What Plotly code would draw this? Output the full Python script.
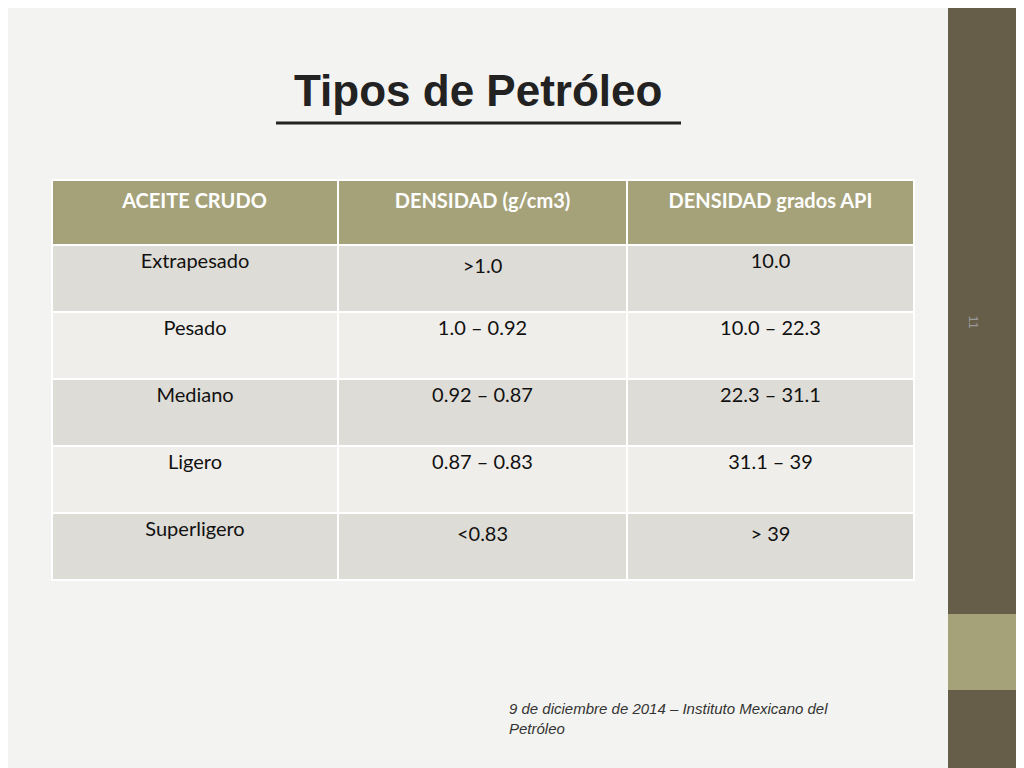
import plotly.graph_objects as go

headers = ["<b>ACEITE CRUDO</b>", "<b>DENSIDAD (g/cm3)</b>", "<b>DENSIDAD grados API</b>"]
tipos = ["Extrapesado", "Pesado", "Mediano", "Ligero", "Superligero"]
densidad = [">1.0", "1.0 – 0.92", "0.92 – 0.87", "0.87 – 0.83", "<0.83"]
api = ["10.0", "10.0 – 22.3", "22.3 – 31.1", "31.1 – 39", "> 39"]

row_colors = ["#DEDCD6", "#EFEEEA"] * 3
row_colors = row_colors[:len(tipos)]

W, H = 1024, 768
OFF = 8  # page offset in the browser


def px(x):
    return (x - OFF) / W


def py(y):
    return 1 - (y - OFF) / H


fig = go.Figure(go.Table(
    domain=dict(x=[px(52), px(914)], y=[py(586), py(180)]),
    columnwidth=[286, 289, 287],
    header=dict(values=headers, fill_color="#A5A27A", height=65,
                line=dict(color="white", width=2),
                font=dict(family="Lato", size=20, color="white"), align="center"),
    cells=dict(values=[tipos, densidad, api], fill_color=[row_colors]*3, height=67,
               line=dict(color="white", width=2),
               font=dict(family="Lato", size=20, color="#111111"), align="center"),
))

fig.add_shape(type="rect", xref="paper", yref="paper", x0=px(948), x1=1.02, y0=-0.02, y1=1.02,
              fillcolor="#665E48", line_width=0, layer="below")
fig.add_shape(type="rect", xref="paper", yref="paper", x0=px(948), x1=1.02, y0=py(690), y1=py(614),
              fillcolor="#A5A27A", line_width=0, layer="below")
fig.add_shape(type="line", xref="paper", yref="paper", x0=px(276), x1=px(681),
              y0=py(123), y1=py(123), line=dict(color="#222222", width=3))

fig.add_annotation(text="<b>Tipos de Petróleo</b>", x=px(478), y=py(64), xref="paper", yref="paper",
                   showarrow=False, font=dict(family="Liberation Sans", size=44, color="#222222"))
fig.add_annotation(text="11", x=px(983), y=py(322), xref="paper", yref="paper", textangle=90,
                   showarrow=False, font=dict(family="Liberation Sans", size=13, color="#999999"))
fig.add_annotation(text="<i>9 de diciembre de 2014 – Instituto Mexicano del<br>Petróleo</i>",
                   x=px(507), y=py(698), xref="paper", yref="paper", xanchor="left", yanchor="top",
                   align="left", showarrow=False,
                   font=dict(family="Liberation Sans", size=15, color="#333333"))

fig.update_layout(width=W, height=H, margin=dict(l=0, r=0, t=0, b=0),
                  paper_bgcolor="#F3F3F1", plot_bgcolor="#F3F3F1")
fig.write_html("out.html")
